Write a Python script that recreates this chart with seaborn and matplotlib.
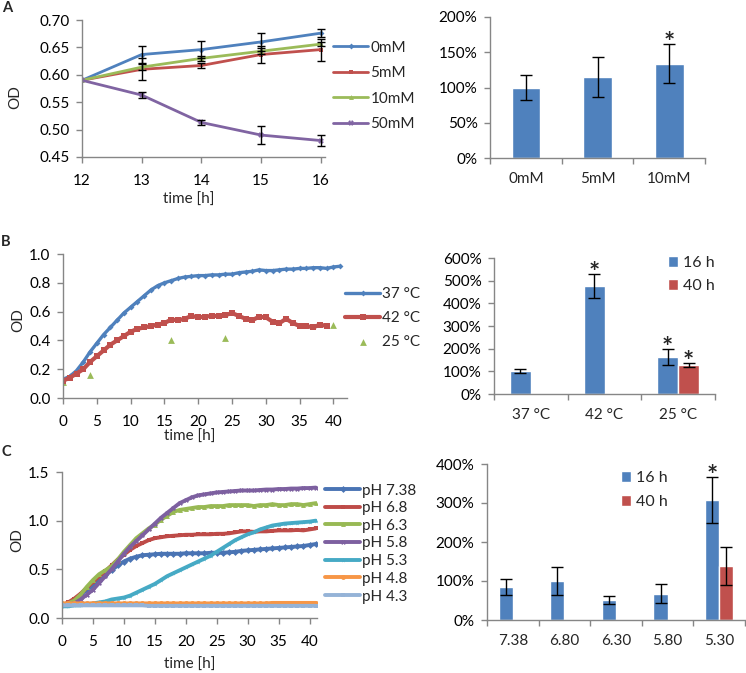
import numpy as np
import pandas as pd
import matplotlib
matplotlib.use("Agg")
import matplotlib.pyplot as plt
import seaborn as sns
from matplotlib.container import BarContainer
from matplotlib.ticker import PercentFormatter, FormatStrFormatter

# ---- panel A: OD 12-16 h at different concentrations ----
a_time = [12, 13, 14, 15, 16]
a_labels = ["0mM", "5mM", "10mM", "50mM"]
a_od_0 = [0.590, 0.637, 0.646, 0.660, 0.676]
a_od_5 = [0.590, 0.610, 0.617, 0.637, 0.646]
a_od_10 = [0.590, 0.614, 0.630, 0.643, 0.656]
a_od_50 = [0.590, 0.563, 0.513, 0.490, 0.480]
a_err_0 = [0.0, 0.015, 0.016, 0.017, 0.007]
a_err_5 = [0.0, 0.020, 0.005, 0.015, 0.020]
a_err_10 = [0.0, 0.006, 0.005, 0.005, 0.004]
a_err_50 = [0.0, 0.005, 0.005, 0.017, 0.010]

a_bar_cats = ["0mM", "5mM", "10mM"]
a_bar_vals = [1.00, 1.15, 1.34]
a_bar_err = [0.18, 0.28, 0.28]
a_bar_star = [False, False, True]

# ---- panel B: temperature ----
b_time_37 = list(range(0, 42))
b_od_37 = [0.13, 0.15, 0.19, 0.25, 0.32, 0.38, 0.44, 0.49, 0.54, 0.59, 0.63,
           0.67, 0.71, 0.75, 0.78, 0.80, 0.815, 0.83, 0.84, 0.845, 0.85, 0.85,
           0.855, 0.855, 0.86, 0.86, 0.87, 0.875, 0.88, 0.89, 0.885, 0.885,
           0.89, 0.895, 0.895, 0.90, 0.90, 0.905, 0.905, 0.90, 0.91, 0.915]
b_time_42 = list(range(0, 40))
b_od_42 = [0.12, 0.14, 0.17, 0.20, 0.25, 0.29, 0.33, 0.37, 0.40, 0.43, 0.46,
           0.48, 0.49, 0.50, 0.51, 0.52, 0.545, 0.54, 0.55, 0.57, 0.56, 0.565,
           0.57, 0.57, 0.575, 0.59, 0.57, 0.55, 0.54, 0.565, 0.56, 0.53, 0.52,
           0.55, 0.52, 0.50, 0.50, 0.49, 0.51, 0.50]
b_time_25 = [0, 4, 16, 24, 40]
b_od_25 = [0.11, 0.16, 0.40, 0.42, 0.51]

b_bar_cats = ["37 °C", "42 °C", "25 °C"]
b_bar_16h = [1.00, 4.75, 1.63]
b_bar_40h = [np.nan, np.nan, 1.28]
b_err_16h = [0.09, 0.53, 0.34]
b_err_40h = [np.nan, np.nan, 0.10]
b_star_16h = [False, True, True]
b_star_40h = [False, False, True]

# ---- panel C: pH ----
c_time = list(range(0, 42))
c_labels = ["pH 7.38", "pH 6.8", "pH 6.3", "pH 5.8", "pH 5.3", "pH 4.8", "pH 4.3"]
c_od_738 = [0.13, 0.15, 0.19, 0.24, 0.29, 0.33, 0.38, 0.44, 0.49, 0.54, 0.58,
            0.61, 0.63, 0.645, 0.65, 0.655, 0.66, 0.66, 0.66, 0.66, 0.665, 0.665,
            0.665, 0.665, 0.67, 0.67, 0.67, 0.675, 0.68, 0.69, 0.695, 0.70,
            0.705, 0.71, 0.715, 0.72, 0.725, 0.73, 0.735, 0.74, 0.75, 0.76]
c_od_68 = [0.13, 0.16, 0.20, 0.25, 0.31, 0.37, 0.43, 0.48, 0.54, 0.60, 0.65,
           0.70, 0.74, 0.77, 0.80, 0.82, 0.83, 0.84, 0.845, 0.85, 0.855, 0.855,
           0.86, 0.86, 0.86, 0.865, 0.865, 0.87, 0.88, 0.89, 0.89, 0.885, 0.89,
           0.89, 0.895, 0.90, 0.90, 0.90, 0.905, 0.90, 0.91, 0.92]
c_od_63 = [0.14, 0.15, 0.18, 0.24, 0.32, 0.39, 0.45, 0.49, 0.53, 0.60, 0.68,
           0.75, 0.82, 0.87, 0.92, 0.96, 1.01, 1.05, 1.09, 1.11, 1.12, 1.13,
           1.14, 1.14, 1.15, 1.15, 1.15, 1.16, 1.16, 1.16, 1.16, 1.15, 1.16,
           1.16, 1.17, 1.16, 1.16, 1.17, 1.17, 1.16, 1.17, 1.18]
c_od_58 = [0.13, 0.14, 0.15, 0.19, 0.24, 0.29, 0.36, 0.43, 0.50, 0.58, 0.66,
           0.73, 0.79, 0.85, 0.91, 0.97, 1.03, 1.08, 1.13, 1.18, 1.21, 1.24,
           1.26, 1.27, 1.28, 1.29, 1.295, 1.30, 1.305, 1.31, 1.31, 1.31, 1.315,
           1.32, 1.32, 1.325, 1.325, 1.33, 1.33, 1.335, 1.335, 1.34]
c_od_53 = [0.12, 0.12, 0.13, 0.13, 0.14, 0.15, 0.16, 0.17, 0.19, 0.20, 0.21,
           0.23, 0.26, 0.29, 0.32, 0.35, 0.39, 0.43, 0.46, 0.49, 0.52, 0.55,
           0.58, 0.61, 0.64, 0.68, 0.72, 0.76, 0.80, 0.83, 0.86, 0.88, 0.91,
           0.93, 0.95, 0.96, 0.97, 0.975, 0.98, 0.985, 0.99, 1.00]
c_od_48 = [0.15, 0.15, 0.15, 0.15, 0.15, 0.15, 0.15, 0.15, 0.15, 0.15, 0.15,
           0.15, 0.15, 0.15, 0.15, 0.15, 0.15, 0.15, 0.15, 0.15, 0.15, 0.15,
           0.15, 0.15, 0.15, 0.15, 0.15, 0.15, 0.15, 0.15, 0.15, 0.15, 0.15,
           0.15, 0.155, 0.155, 0.155, 0.155, 0.155, 0.155, 0.155, 0.155]
c_od_43 = [0.13, 0.13, 0.13, 0.13, 0.13, 0.13, 0.13, 0.13, 0.13, 0.13, 0.13,
           0.13, 0.13, 0.13, 0.125, 0.125, 0.125, 0.125, 0.125, 0.125, 0.125,
           0.125, 0.125, 0.125, 0.125, 0.125, 0.125, 0.125, 0.125, 0.125, 0.125,
           0.125, 0.125, 0.125, 0.125, 0.125, 0.125, 0.125, 0.125, 0.125, 0.125,
           0.125]

c_bar_cats = ["7.38", "6.80", "6.30", "5.80", "5.30"]
c_bar_16h = [0.85, 1.00, 0.52, 0.67, 3.07]
c_bar_40h = [np.nan, np.nan, np.nan, np.nan, 1.38]
c_err_16h = [0.21, 0.35, 0.10, 0.245, 0.59]
c_err_40h = [np.nan, np.nan, np.nan, np.nan, 0.49]
c_star_16h = [False, False, False, False, True]
c_star_40h = [False, False, False, False, False]

BLUE = "#4F81BD"
RED = "#C0504D"
GREEN = "#9BBB59"
PURPLE = "#8064A2"
AXIS_GREY = "#868686"
W, H = 746, 673
FS = 11

sns.set_style("ticks")
plt.rcParams["font.family"] = ["Lato", "DejaVu Sans"]
plt.rcParams["font.size"] = FS

fig = plt.figure(figsize=(W / 100, H / 100), dpi=100)


def px_axes(l, t, r, b):
    return fig.add_axes([l / W, 1 - b / H, (r - l) / W, (b - t) / H])


def fig_text(x, y, s, **kw):
    fig.text(x / W, 1 - y / H, s, ha="center", va="center", **kw)


def excel_style(ax):
    sns.despine(ax=ax)
    for s in ("left", "bottom"):
        ax.spines[s].set_color(AXIS_GREY)
        ax.spines[s].set_linewidth(1)
    ax.tick_params(colors=AXIS_GREY, labelcolor="black", labelsize=FS,
                   length=4, width=1, direction="out")
    ax.tick_params(axis="y", pad=5)
    ax.tick_params(axis="x", pad=8)
    ax.set_xlabel("")
    ax.set_ylabel("")


def line_legend(ax, x, y, spacing):
    ax.legend(loc="center left", bbox_to_anchor=(x / W, 1 - y / H),
              bbox_transform=fig.transFigure, frameon=False, borderpad=0,
              borderaxespad=0, handlelength=2.3, handletextpad=0.15,
              labelspacing=spacing, fontsize=FS)


def category_axis(ax, cats, ymax):
    n = len(cats)
    excel_style(ax)
    ax.set_xlim(-0.5, n - 0.5)
    ax.set_xticks(np.arange(n + 1) - 0.5)
    ax.set_xticklabels([])
    ax.set_xticks(np.arange(n), minor=True)
    ax.set_xticklabels(cats, minor=True)
    ax.tick_params(axis="x", which="minor", length=0, pad=10)
    ax.set_ylim(0, ymax)
    ax.yaxis.set_major_formatter(PercentFormatter(xmax=1, decimals=0))


def add_err_star(ax, xc, h, e, star):
    ax.errorbar(xc, h, yerr=e, fmt="none", ecolor="black", elinewidth=1,
                capsize=4, capthick=1, zorder=5)
    if star:
        ax.annotate("*", (xc, h + e), xytext=(0, -5), textcoords="offset points",
                    ha="center", va="baseline", fontsize=19, fontweight="bold")


def bar_panel(ax, cats, v16, v40, e16, e40, s16, s40, ymax, width, leg_xy, leg_sp):
    df = pd.DataFrame({
        "cond": cats * 2,
        "time": ["16 h"] * len(cats) + ["40 h"] * len(cats),
        "value": list(v16) + list(v40),
    })
    sns.barplot(data=df, x="cond", y="value", hue="time", hue_order=["16 h", "40 h"],
                palette=[BLUE, RED], saturation=1, width=width, errorbar=None,
                ax=ax)
    errs = [e16, e40]
    stars = [s16, s40]
    bar_conts = [c for c in ax.containers if isinstance(c, BarContainer)]
    marks = []
    for k, cont in enumerate(bar_conts):
        for bar in cont.patches:
            h = bar.get_height()
            if not np.isfinite(h) or h == 0:
                continue
            xc = bar.get_x() + bar.get_width() / 2
            i = int(round(xc))
            marks.append((xc, h, errs[k][i], stars[k][i]))
    for m in marks:
        add_err_star(ax, *m)
    handles = ax.get_legend().legend_handles
    ax.legend(handles, ["16 h", "40 h"], loc="center left",
              bbox_to_anchor=(leg_xy[0] / W, 1 - leg_xy[1] / H),
              bbox_transform=fig.transFigure, frameon=False, borderpad=0,
              borderaxespad=0, handlelength=0.65, handleheight=0.65,
              handletextpad=0.3, labelspacing=leg_sp, fontsize=11.5)
    category_axis(ax, cats, ymax)


# ================= A left =================
ax = px_axes(82, 20, 325, 157)
for vals, errs, name, col, mk, ms in [
        (a_od_0, a_err_0, "0mM", BLUE, "D", 3),
        (a_od_5, a_err_5, "5mM", RED, "s", 3.5),
        (a_od_10, a_err_10, "10mM", GREEN, "^", 3.5),
        (a_od_50, a_err_50, "50mM", PURPLE, "X", 4)]:
    sns.lineplot(x=a_time, y=vals, ax=ax, color=col, marker=mk, markersize=ms,
                 markeredgewidth=0, linewidth=2, label=name, errorbar=None)
    ax.errorbar(a_time[1:], vals[1:], yerr=errs[1:], fmt="none", ecolor="black",
                elinewidth=1, capsize=3, capthick=1, zorder=5)
excel_style(ax)
ax.set_xlim(12, 16.07)
ax.set_ylim(0.45, 0.70)
ax.set_xticks(a_time)
ax.set_yticks(np.arange(0.45, 0.7001, 0.05))
ax.yaxis.set_major_formatter(FormatStrFormatter("%.2f"))
line_legend(ax, 333, 86, 0.75)

# ================= A right =================
ax = px_axes(490, 17, 705, 158)
sns.barplot(x=a_bar_cats, y=a_bar_vals, color=BLUE, saturation=1, width=0.4,
            errorbar=None, ax=ax)
a_marks = [(b.get_x() + b.get_width() / 2, b.get_height()) for b in ax.patches]
for (xc, h), e, st in zip(a_marks, a_bar_err, a_bar_star):
    add_err_star(ax, xc, h, e, st)
category_axis(ax, a_bar_cats, 2.0)
ax.set_yticks(np.arange(0, 2.01, 0.5))

# ================= B left =================
ax = px_axes(63, 254, 347, 398)
sns.lineplot(x=b_time_37, y=b_od_37, ax=ax, color=BLUE, marker="D", markersize=3,
             markeredgewidth=0, linewidth=2.4, label="37 °C", errorbar=None)
sns.lineplot(x=b_time_42, y=b_od_42, ax=ax, color=RED, marker="s", markersize=4,
             markeredgewidth=0, linewidth=3, label="42 °C", errorbar=None)
sns.scatterplot(x=b_time_25, y=b_od_25, ax=ax, color=GREEN, marker="^", s=24,
                linewidth=0, label="25 °C")
excel_style(ax)
ax.set_xlim(0, 42)
ax.set_ylim(0, 1.0)
ax.set_xticks(np.arange(0, 41, 5))
ax.set_yticks(np.arange(0, 1.01, 0.2))
ax.yaxis.set_major_formatter(FormatStrFormatter("%.1f"))
line_legend(ax, 345, 318, 0.63)

# ================= B right =================
ax = px_axes(494, 258, 715, 394)
bar_panel(ax, b_bar_cats, b_bar_16h, b_bar_40h, b_err_16h, b_err_40h,
          b_star_16h, b_star_40h, 6.0, 0.57, (668, 274.5), 0.56)
ax.set_yticks(np.arange(0, 6.01, 1))

# ================= C left =================
ax = px_axes(62, 472, 317, 618)
c_cols = ["#4A74B4", "#BE4B48", "#98B954", "#7D60A0", "#46AAC5", "#F79646", "#95B3D7"]
c_marks = ["D", "s", "^", "X", "*", "o", "s"]
for vals, name, col, mk in zip([c_od_738, c_od_68, c_od_63, c_od_58, c_od_53, c_od_48, c_od_43],
                               c_labels, c_cols, c_marks):
    sns.lineplot(x=c_time, y=vals, ax=ax, color=col, marker=mk, markersize=3.5,
                 markeredgewidth=0, linewidth=2.8, label=name, errorbar=None)
excel_style(ax)
ax.set_xlim(0, 41.2)
ax.set_ylim(0, 1.5)
ax.set_xticks(np.arange(0, 41, 5))
ax.set_yticks(np.arange(0, 1.51, 0.5))
ax.yaxis.set_major_formatter(FormatStrFormatter("%.1f"))
line_legend(ax, 325, 543.5, 0.24)

# ================= C right =================
ax = px_axes(487, 464, 745, 620)
bar_panel(ax, c_bar_cats, c_bar_16h, c_bar_40h, c_err_16h, c_err_40h,
          c_star_16h, c_star_40h, 4.0, 0.55, (621, 490), 0.62)
ax.set_yticks(np.arange(0, 4.01, 1))

# ---- axis titles and panel letters ----
fig_text(15, 97, "OD", rotation=90, fontsize=FS)
fig_text(189, 200, "time [h]", fontsize=FS)
fig_text(18, 320, "OD", rotation=90, fontsize=FS)
fig_text(190, 437, "time [h]", fontsize=FS)
fig_text(17, 540, "OD", rotation=90, fontsize=FS)
fig_text(190, 665, "time [h]", fontsize=FS)
fig_text(7, 8, "A", fontweight="bold", fontsize=10.5)
fig_text(6, 242, "B", fontweight="bold", fontsize=10.5)
fig_text(6, 452, "C", fontweight="bold", fontsize=10.5)

fig.savefig("out.png", dpi=100)
